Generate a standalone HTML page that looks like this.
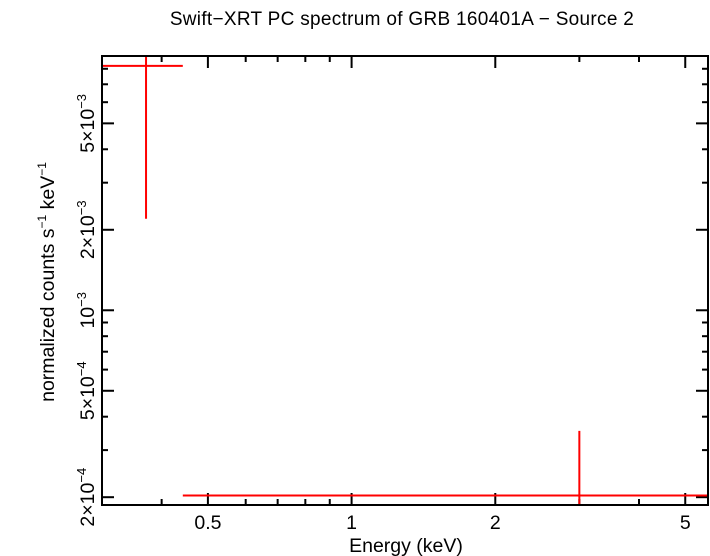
<!DOCTYPE html>
<html><head><meta charset="utf-8"><style>body{margin:0;background:#fff}svg{display:block;font-family:"Liberation Sans",sans-serif}</style></head>
<body>
<svg width="710" height="556" id="c">
<defs><clipPath id="clip"><rect x="102" y="56" width="606" height="449"/></clipPath></defs>
<text x="402" y="25" font-size="19" letter-spacing="0.3" text-anchor="middle">Swift−XRT PC spectrum of GRB 160401A − Source 2</text>
<text x="406" y="552" font-size="19.5" text-anchor="middle">Energy (keV)</text>
<text transform="translate(54,282) rotate(-90)" font-size="19.5" text-anchor="middle">normalized counts s<tspan font-size="12" dy="-8">−1</tspan><tspan dy="8"> keV</tspan><tspan font-size="12" dy="-8">−1</tspan></text>
<g id="axes"></g>
<g id="marks" clip-path="url(#clip)"></g>
<rect x="102" y="56" width="606" height="449" fill="none" stroke="#000" stroke-width="2"/>
</svg>
<script>
const xTicksMajor = [0.5, 1, 2, 5];
const xTickLabels = ["0.5", "1", "2", "5"];
const xTicksMinor = [0.3, 0.4, 0.6, 0.7, 0.8, 0.9, 3, 4];
const yTicksMajor = [2e-4, 5e-4, 1e-3, 2e-3, 5e-3];
const yTickBase = ["2", "5", "", "2", "5"];
const yTickExp = ["−4", "−4", "−3", "−3", "−3"];
const yTicksMinor = [3e-4, 4e-4, 6e-4, 7e-4, 8e-4, 9e-4, 3e-3, 4e-3, 6e-3, 7e-3, 8e-3];
const energy = [0.371, 3.0];
const energyLo = [0.30, 0.443];
const energyHi = [0.443, 5.58];
const counts = [8.2e-3, 2.03e-4];
const countsLo = [2.2e-3, 1.0e-4];
const countsHi = [1.5e-2, 3.54e-4];

const NS = "http://www.w3.org/2000/svg";
const L = 102, R = 708, T = 56, B = 505;
const xmin = Math.log10(0.30), xmax = Math.log10(5.58);
const ymin = Math.log10(1.87e-4), ymax = Math.log10(8.93e-3);
const X = v => L + (Math.log10(v) - xmin) / (xmax - xmin) * (R - L);
const Y = v => B - (Math.log10(v) - ymin) / (ymax - ymin) * (B - T);
function mk(tag, attrs, parent) {
  const e = document.createElementNS(NS, tag);
  for (const k in attrs) e.setAttribute(k, attrs[k]);
  parent.appendChild(e);
  return e;
}
const ax = document.getElementById("axes");
function tick(x1, y1, x2, y2, name) {
  const l = mk("line", {x1, y1, x2, y2, stroke: "#000", "stroke-width": 2}, ax);
  
  
}
xTicksMajor.forEach((v, i) => {
  const x = X(v);
  tick(x, B, x, B - 12, "x-major-tick");
  tick(x, T, x, T + 12, "x-major-tick-top");
  const t = mk("text", {x, y: 529, "font-size": 19.5, "text-anchor": "middle"}, ax);
  t.textContent = xTickLabels[i];
  
  
});
xTicksMinor.forEach(v => {
  const x = X(v);
  tick(x, B, x, B - 6, "x-minor-tick");
  tick(x, T, x, T + 6, "x-minor-tick-top");
});
yTicksMajor.forEach((v, i) => {
  const y = Y(v);
  tick(L, y, L + 12, y, "y-major-tick");
  tick(R, y, R - 12, y, "y-major-tick-right");
  const t = mk("text", {transform: `translate(94,${y}) rotate(-90)`, "font-size": 19.5, "text-anchor": "middle"}, ax);
  
  
  const pre = yTickBase[i] ? yTickBase[i] + "×10" : "10";
  const s1 = mk("tspan", {}, t); s1.textContent = pre;
  const s2 = mk("tspan", {"font-size": 13, dy: -8}, t); s2.textContent = yTickExp[i];
});
yTicksMinor.forEach(v => {
  const y = Y(v);
  tick(L, y, L + 6, y, "y-minor-tick");
  tick(R, y, R - 6, y, "y-minor-tick-right");
});
const mg = document.getElementById("marks");
energy.forEach((e, i) => {
  const g = mk("g", {stroke: "#f00", "stroke-width": 2}, mg);
  
  
  mk("line", {x1: X(energyLo[i]), x2: X(energyHi[i]), y1: Y(counts[i]), y2: Y(counts[i])}, g);
  mk("line", {x1: X(e), x2: X(e), y1: Y(countsLo[i]), y2: Y(countsHi[i])}, g);
});
</script>
</body></html>
